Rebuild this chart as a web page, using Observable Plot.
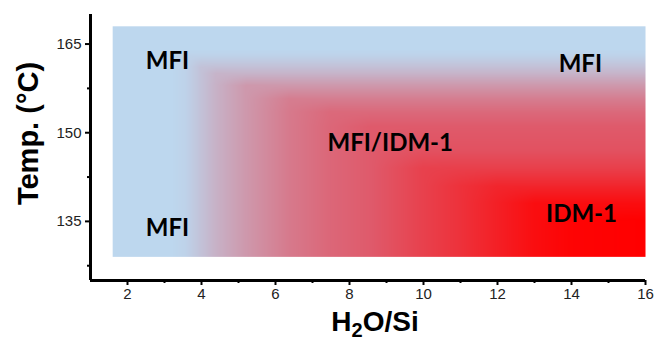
<!DOCTYPE html>
<html><head><meta charset="utf-8">
<script src="https://cdn.jsdelivr.net/npm/d3@7"></script>
<script src="https://cdn.jsdelivr.net/npm/@observablehq/plot@0.6"></script>
<style>body{margin:0;background:#fff}</style>
</head><body><div id="chart"></div>
<script>
// H2O/Si positions (columns) and temperatures (rows) where the phase shading was read
const xStops = [1.6, 3.2, 3.6, 4.0, 4.4, 5.2, 6.4, 7.5, 8.6, 10, 11, 12, 13, 14, 16];
const yStops = [168, 164, 163, 162, 161, 160, 158, 155.7, 153.5, 151, 147, 144, 141, 138, 135, 129];
// shading level: 0 = MFI (blue), 1 = MFI/IDM-1 (rose), 2 = IDM-1 (red)
const phaseLevel = [
  [0,0,0,   0,   0,   0,   0,   0,   0,   0,   0,   0,   0,   0,   0],
  [0,0,0,   0,   0,   0,   0,   0,   0,   0,   0,   0,   0,   0,   0],
  [0,0,0.04,0.04,0.04,0.04,0.04,0.04,0.04,0.04,0.04,0.04,0.04,0.04,0.04],
  [0,0,0.04,0.11,0.11,0.11,0.11,0.11,0.11,0.11,0.11,0.11,0.11,0.11,0.11],
  [0,0,0.04,0.17,0.19,0.19,0.19,0.19,0.19,0.19,0.19,0.19,0.19,0.19,0.19],
  [0,0,0.04,0.17,0.28,0.28,0.28,0.28,0.28,0.28,0.28,0.28,0.28,0.28,0.28],
  [0,0,0.04,0.17,0.3, 0.5, 0.5, 0.5, 0.5, 0.5, 0.5, 0.5, 0.5, 0.5, 0.5],
  [0,0,0.04,0.17,0.3, 0.5, 0.72,0.72,0.72,0.72,0.72,0.72,0.72,0.72,0.72],
  [0,0,0.04,0.17,0.3, 0.5, 0.75,0.88,0.88,0.88,0.88,0.88,0.88,0.88,0.88],
  [0,0,0.04,0.17,0.3, 0.5, 0.75,0.9, 1,   1,   1,   1,   1,   1,   1],
  [0,0,0.04,0.17,0.3, 0.5, 0.75,0.9, 1,   1.1, 1.1, 1.1, 1.1, 1.1, 1.1],
  [0,0,0.04,0.17,0.3, 0.5, 0.75,0.9, 1,   1.28,1.3, 1.3, 1.3, 1.3, 1.3],
  [0,0,0.04,0.17,0.3, 0.5, 0.75,0.9, 1,   1.28,1.45,1.58,1.58,1.58,1.58],
  [0,0,0.04,0.17,0.3, 0.5, 0.75,0.9, 1,   1.28,1.45,1.65,1.85,1.85,1.85],
  [0,0,0.04,0.17,0.3, 0.5, 0.75,0.9, 1,   1.28,1.45,1.65,1.85,1.96,2],
  [0,0,0.04,0.17,0.3, 0.5, 0.75,0.9, 1,   1.28,1.45,1.65,1.85,1.96,2]
];
const phaseLabels = ["MFI", "MFI", "MFI", "MFI/IDM-1", "IDM-1"];
const labelX = [3.08, 3.08, 14.24, 9.1, 14.27];
const labelY = [162.0, 133.8, 161.6, 148.2, 136.2];
const xTicks = [2, 4, 6, 8, 10, 12, 14, 16];
const xMinor = [3, 5, 7, 9, 11, 13, 15];
const yTicks = [135, 150, 165];
const yMinor = [127.5, 142.5, 157.5];

// bilinear look-up in the read grid (rendering only)
function level(x, y) {
  const nx = xStops.length, ny = yStops.length;
  let j = d3.bisectRight(xStops, x) - 1;
  j = Math.max(0, Math.min(nx - 2, j));
  let i = 0;
  while (i < ny - 2 && y < yStops[i + 1]) i++;
  const tx = Math.max(0, Math.min(1, (x - xStops[j]) / (xStops[j + 1] - xStops[j])));
  const ty = Math.max(0, Math.min(1, (yStops[i] - y) / (yStops[i] - yStops[i + 1])));
  const a = phaseLevel[i][j], b = phaseLevel[i][j + 1];
  const c = phaseLevel[i + 1][j], d = phaseLevel[i + 1][j + 1];
  return (a * (1 - tx) + b * tx) * (1 - ty) + (c * (1 - tx) + d * tx) * ty;
}

const labels = phaseLabels.map((t, i) => ({t, x: labelX[i], y: labelY[i]}));

const plot = Plot.plot({
  width: 656, height: 340,
  marginLeft: 90, marginRight: 11, marginTop: 14, marginBottom: 60,
  x: {domain: [1, 16], label: null},
  y: {domain: [125, 170], label: null},
  color: {type: "linear", domain: [0, 1, 2], range: ["#BDD7EE", "#DF5A6B", "#FF0000"], interpolate: "rgb"},
  style: {fontFamily: "'Liberation Sans', Arial, sans-serif", background: "#fff", color: "#000"},
  marks: [
    Plot.raster({fill: level,
      x1: xStops[0], x2: xStops[xStops.length - 1], y1: yStops[yStops.length - 1], y2: yStops[0]}),
    Plot.text(labels, {x: "x", y: "y", text: "t", fontFamily: "Lato, 'Open Sans', sans-serif",
      fontWeight: "bold", fontSize: 24, fill: "#000"}),
    Plot.axisX(xTicks, {tickSize: 5, strokeWidth: 2, tickPadding: 3, fontSize: 15, fill: "#222"}),
    Plot.axisX(xMinor, {tickSize: 3, strokeWidth: 2, tickFormat: () => ""}),
    Plot.axisY(yTicks, {tickSize: 5, strokeWidth: 2, tickPadding: 4, fontSize: 15, fill: "#222"}),
    Plot.axisY(yMinor, {tickSize: 3, strokeWidth: 2, tickFormat: () => ""}),
    Plot.ruleX([1], {strokeWidth: 3}),
    Plot.ruleY([125], {strokeWidth: 3}),
    Plot.text(["Temp. (°C)"], {frameAnchor: "left", textAnchor: "middle", rotate: -90, dx: -62, dy: -14,
      fontSize: 29, fontWeight: "bold"}),
    Plot.text(["H2O/Si"], {frameAnchor: "bottom", textAnchor: "middle", dx: 7, dy: 42, lineAnchor: "middle",
      fontSize: 28, fontWeight: "bold"})
  ]
});
document.getElementById("chart").appendChild(plot);

// render the subscript 2 in the x-axis title
plot.querySelectorAll("text").forEach(el => {
  if (el.textContent === "H2O/Si") {
    el.textContent = "";
    const ns = "http://www.w3.org/2000/svg";
    const a = document.createElementNS(ns, "tspan"); a.textContent = "H";
    const b = document.createElementNS(ns, "tspan"); b.textContent = "2";
    b.setAttribute("font-size", "20"); b.setAttribute("dy", "6");
    const c = document.createElementNS(ns, "tspan"); c.textContent = "O/Si";
    c.setAttribute("dy", "-6");
    el.append(a, b, c);
  }
});
</script>
</body></html>
